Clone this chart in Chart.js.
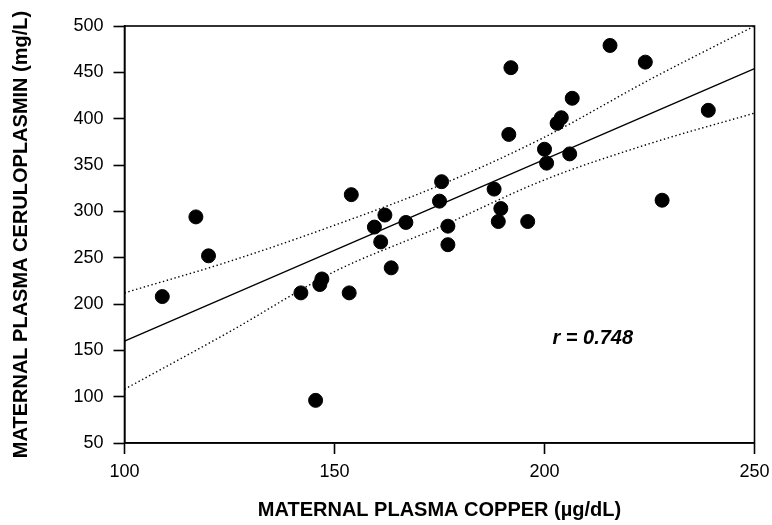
<!DOCTYPE html>
<html>
<head>
<meta charset="utf-8">
<script src="https://cdn.jsdelivr.net/npm/chart.js@4"></script>
<style>
  html, body { margin: 0; padding: 0; background: #fff; }
  #wrap { width: 772px; height: 525px; }
</style>
</head>
<body>
<div id="wrap"><canvas id="c" width="772" height="525"></canvas></div>
<script>
// ---- Data ----
const copper = [109, 117, 120, 142, 146.5, 147, 153.5, 145.5, 161, 163.5, 154, 162, 159.5, 167, 175.5, 175, 177, 177, 192, 191.5, 215.6, 224, 206.6, 204, 203, 239, 200, 200.5, 206, 188, 189.6, 189, 196, 228];
const ceruloplasmin = [208, 294, 252, 212, 221, 227, 212, 96, 267, 239, 318, 296, 283, 288, 332, 311, 284, 264, 455, 383, 479, 461, 422, 401, 395, 409, 367, 352, 362, 324, 303, 289, 289, 312];

const fitX = [100, 250];
const fitY = [160, 454];

const bandX = [100, 125, 150, 175, 200, 225, 250];
const bandUpper = [212, 246, 285, 328, 380, 442, 500];
const bandLower = [108, 170, 235, 283, 334, 373, 406];

const xTicks = [100, 150, 200, 250];
const yTicks = [50, 100, 150, 200, 250, 300, 350, 400, 450, 500];

const xTitle = 'MATERNAL PLASMA COPPER (\u00b5g/dL)';
const yTitle = 'MATERNAL PLASMA CERULOPLASMIN (mg/L)';
const rLabel = 'r = 0.748';
const rLabelAt = { x: 211.5, y: 163 };

// ---- Build chart ----
const pts = copper.map((x, i) => ({ x: x, y: ceruloplasmin[i] }));
const fit = fitX.map((x, i) => ({ x: x, y: fitY[i] }));
const up = bandX.map((x, i) => ({ x: x, y: bandUpper[i] }));
const lo = bandX.map((x, i) => ({ x: x, y: bandLower[i] }));

const FONT = "'Liberation Sans', Arial, Helvetica, sans-serif";

const frame = {
  id: 'frame',
  afterDatasetsDraw(chart) {
    const { ctx, chartArea: a, scales } = chart;
    ctx.save();
    ctx.strokeStyle = '#000';
    ctx.lineWidth = 1.6;
    ctx.strokeRect(a.left, a.top, a.right - a.left, a.bottom - a.top);
    ctx.fillStyle = '#000';
    ctx.font = "italic bold 20px " + FONT;
    ctx.textAlign = 'center';
    ctx.textBaseline = 'middle';
    ctx.fillText(rLabel, scales.x.getPixelForValue(rLabelAt.x), scales.y.getPixelForValue(rLabelAt.y));
    ctx.restore();
  }
};

new Chart(document.getElementById('c'), {
  type: 'scatter',
  data: {
    datasets: [
      { type: 'scatter', data: pts, backgroundColor: '#000', borderColor: '#000', pointRadius: 7, pointHoverRadius: 7, order: 0 },
      { type: 'line', data: fit, borderColor: '#000', borderWidth: 1.3, pointRadius: 0, fill: false, order: 1 },
      { type: 'line', data: up, borderColor: '#000', borderWidth: 1.4, borderDash: [1.4, 2.6], pointRadius: 0, fill: false, cubicInterpolationMode: 'monotone', order: 2 },
      { type: 'line', data: lo, borderColor: '#000', borderWidth: 1.4, borderDash: [1.4, 2.6], pointRadius: 0, fill: false, cubicInterpolationMode: 'monotone', order: 2 }
    ]
  },
  options: {
    responsive: false,
    animation: false,
    events: [],
    layout: { padding: { top: 26, right: 17.5, left: 0, bottom: 0 } },
    plugins: { legend: { display: false }, tooltip: { enabled: false } },
    scales: {
      x: {
        type: 'linear',
        min: 100, max: 250,
        afterBuildTicks: (s) => { s.ticks = xTicks.map(v => ({ value: v })); },
        afterFit: (s) => { s.height = 82; s.paddingLeft = 0; s.paddingRight = 0; },
        grid: { drawOnChartArea: false, drawTicks: true, tickLength: 11, tickWidth: 1.6, tickColor: '#000' },
        border: { display: true, color: '#000', width: 1.6 },
        ticks: { color: '#000', font: { family: FONT, size: 18 }, padding: 7, maxRotation: 0 },
        title: { display: true, text: xTitle, color: '#000', font: { family: FONT, size: 20, weight: 'bold' }, padding: { top: 0, bottom: 3 } }
      },
      y: {
        type: 'linear',
        min: 50, max: 500,
        afterBuildTicks: (s) => { s.ticks = yTicks.map(v => ({ value: v })); },
        afterFit: (s) => { s.width = 124.5; s.paddingTop = 0; s.paddingBottom = 0; },
        grid: { drawOnChartArea: false, drawTicks: true, tickLength: 11, tickWidth: 1.6, tickColor: '#000' },
        border: { display: true, color: '#000', width: 1.6 },
        ticks: { color: '#000', font: { family: FONT, size: 18 }, padding: 10 },
        title: { display: true, text: yTitle, color: '#000', font: { family: FONT, size: 20, weight: 'bold' }, padding: { top: 9, bottom: 0 } }
      }
    }
  },
  plugins: [frame]
});
</script>
</body>
</html>
